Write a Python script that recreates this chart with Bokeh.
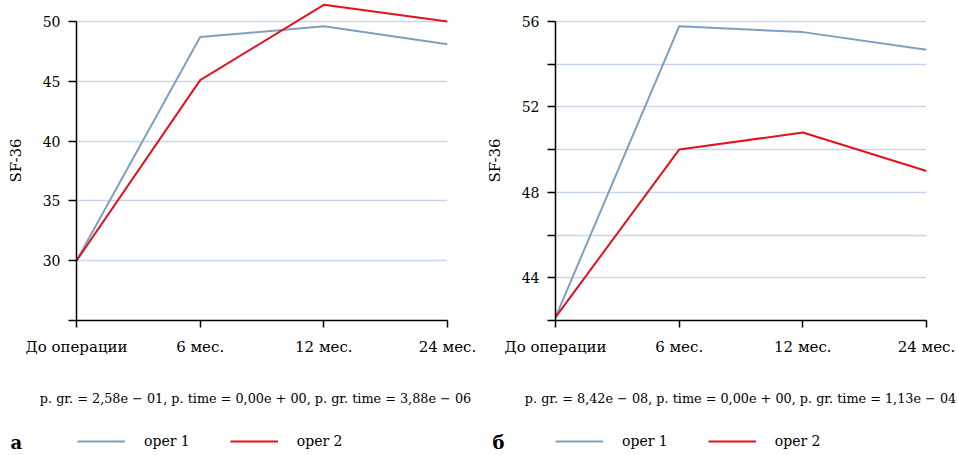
from bokeh.plotting import figure
from bokeh.layouts import row, column
from bokeh.models import Range1d, FixedTicker, Legend, LegendItem
from bokeh.core.properties import value
from bokeh.embed import file_html
from bokeh.resources import INLINE

# ---------------- data ----------------
timepoints = ["До операции", "6 мес.", "12 мес.", "24 мес."]
series_names = ["oper 1", "oper 2"]

a_oper1 = [30.0, 48.7, 49.6, 48.1]
a_oper2 = [30.0, 45.1, 51.4, 50.0]
b_oper1 = [42.15, 55.77, 55.5, 54.67]
b_oper2 = [42.15, 50.0, 50.8, 49.0]

a_ticks = [25, 30, 35, 40, 45, 50]
a_tick_labels = {25: ""}
a_grid = [30, 35, 40, 45, 50]
b_ticks = [42, 44, 46, 48, 50, 52, 54, 56]
b_tick_labels = {42: "", 46: "", 50: "", 54: ""}
b_grid = [44, 46, 48, 50, 52, 54, 56]

a_ptext = "p. gr. = 2,58e − 01, p. time = 0,00e + 00, p. gr. time = 3,88e − 06"
b_ptext = "p. gr. = 8,42e − 08, p. time = 0,00e + 00, p. gr. time = 1,13e − 04"
panel_letters = ["а", "б"]

# ---------------- style ----------------
FONT = "DejaVu Serif"
BLUE = "#7d9fc1"
RED = "#e3121c"
GRID = "#c8d6e9"
FRAME_W = 371
FRAME_H = 320
MAIN_H = 362
SUB_H = 93


def no_align(fig):
    try:
        fig.frame_align = False
    except Exception:
        pass


def make_panel(width, y0, y_top, y_axis_top, ticks, overrides, grid_ticks,
               s1, s2):
    p = figure(width=width, height=MAIN_H, output_backend="svg",
               toolbar_location=None, min_border_left=76,
               min_border_right=width - 76 - FRAME_W, min_border_top=0,
               min_border_bottom=MAIN_H - FRAME_H,
               x_range=Range1d(0, len(timepoints) - 1),
               y_range=Range1d(y0, y_top))
    no_align(p)
    p.outline_line_color = None
    p.background_fill_color = "white"
    p.border_fill_color = "white"

    xs = list(range(len(timepoints)))
    p.line(xs, s1, line_color=BLUE, line_width=2)
    p.line(xs, s2, line_color=RED, line_width=2)

    # grids
    p.xgrid.ticker = FixedTicker(ticks=[xs[-1]])
    p.xgrid.bounds = (y0, y_axis_top)
    p.xgrid.grid_line_color = GRID
    p.xgrid.grid_line_width = 1.5
    p.ygrid.ticker = FixedTicker(ticks=grid_ticks)
    p.ygrid.grid_line_color = GRID
    p.ygrid.grid_line_width = 1.5

    # x axis
    xa = p.xaxis[0]
    xa.ticker = FixedTicker(ticks=xs)
    xa.major_label_overrides = {i: t for i, t in enumerate(timepoints)}
    xa.minor_tick_line_color = None
    xa.major_tick_in = 0
    xa.major_tick_out = 7
    xa.axis_line_width = 1.5
    xa.major_tick_line_width = 1.5
    xa.axis_line_color = "black"
    xa.major_tick_line_color = "black"
    xa.major_label_text_font = FONT
    xa.major_label_text_font_size = "15px"
    xa.major_label_text_color = "black"
    xa.major_label_standoff = 10

    # y axis
    ya = p.yaxis[0]
    ya.ticker = FixedTicker(ticks=ticks)
    ya.major_label_overrides = overrides
    ya.bounds = (y0, y_axis_top)
    ya.minor_tick_line_color = None
    ya.major_tick_in = 0
    ya.major_tick_out = 8
    ya.axis_line_width = 1.5
    ya.major_tick_line_width = 1.5
    ya.axis_line_color = "black"
    ya.major_tick_line_color = "black"
    ya.major_label_text_font = FONT
    ya.major_label_text_font_size = "14px"
    ya.major_label_text_color = "black"
    ya.major_label_standoff = 8
    ya.axis_label = "SF-36"
    ya.axis_label_text_font = FONT
    ya.axis_label_text_font_style = "normal"
    ya.axis_label_text_font_size = "15px"
    ya.axis_label_text_color = "black"
    ya.axis_label_standoff = 15
    return p


def make_footer(width, ptext, ptext_x, letter, letter_x, legend_x, s1, s2):
    s = figure(width=width, height=SUB_H, output_backend="svg",
               toolbar_location=None, min_border=0,
               min_border_left=0, min_border_right=0,
               min_border_top=0, min_border_bottom=0,
               x_range=Range1d(0, width), y_range=Range1d(0, SUB_H),
               x_axis_location=None, y_axis_location=None)
    no_align(s)
    s.outline_line_color = None
    s.xgrid.visible = False
    s.ygrid.visible = False
    s.background_fill_color = "white"
    s.border_fill_color = "white"

    s.text(x=[ptext_x], y=[57], text=[ptext], text_font=value(FONT),
           text_font_size="12.8px", text_align="center",
           text_baseline="middle", text_color="black")
    s.text(x=[letter_x], y=[13], text=[letter], text_font=value(FONT),
           text_font_size="18px", text_font_style="bold", text_align="left",
           text_baseline="middle", text_color="black")

    # legend keys: the series drawn on an off-screen range, used only for the legend
    s.extra_y_ranges = {"off": Range1d(1000, 1001)}
    xs = list(range(len(timepoints)))
    k1 = s.line(xs, s1, line_color=BLUE, line_width=2, y_range_name="off")
    k2 = s.line(xs, s2, line_color=RED, line_width=2, y_range_name="off")
    legend = Legend(items=[LegendItem(label=series_names[0], renderers=[k1]),
                           LegendItem(label=series_names[1], renderers=[k2])],
                    location=(legend_x, 4), orientation="horizontal",
                    glyph_width=48, glyph_height=20, label_height=20,
                    label_standoff=19, spacing=40, padding=0, margin=0,
                    border_line_color=None, background_fill_alpha=0,
                    label_text_font=FONT, label_text_font_size="14px",
                    label_text_color="black")
    s.add_layout(legend, "center")
    return s


p1 = make_panel(479, 25, 51.76, 50, a_ticks, a_tick_labels, a_grid,
                a_oper1, a_oper2)
p2 = make_panel(478, 42, 56.98, 56, b_ticks, b_tick_labels, b_grid,
                b_oper1, b_oper2)
f1 = make_footer(479, a_ptext, 255, panel_letters[0], 10, 77, a_oper1, a_oper2)
f2 = make_footer(478, b_ptext, 261, panel_letters[1], 13, 76, b_oper1, b_oper2)

layout = row(column(p1, f1), column(p2, f2))
open("out.html", "w").write(file_html(layout, INLINE))
